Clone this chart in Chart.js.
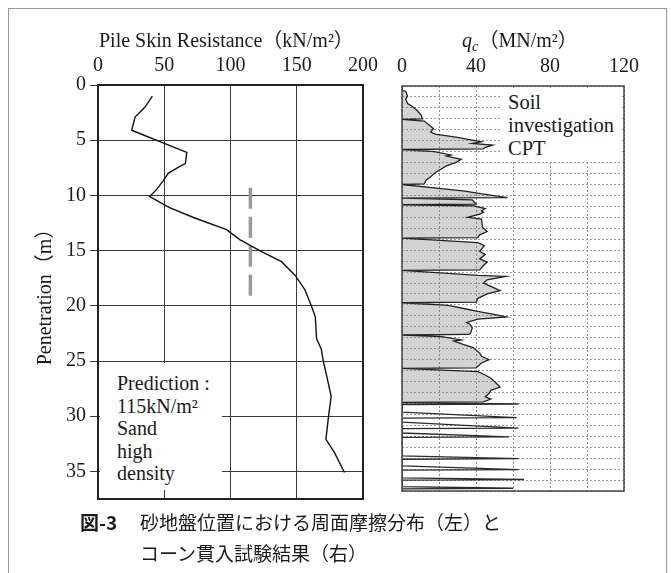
<!DOCTYPE html>
<html><head><meta charset="utf-8">
<script src="https://cdn.jsdelivr.net/npm/chart.js@4.4.1/dist/chart.umd.min.js"></script>
<style>
html,body{margin:0;padding:0;background:#fff;width:671px;height:573px;overflow:hidden;position:relative;}
#frame{position:absolute;left:8px;top:8px;width:657px;height:620px;border:1px solid #999;}
canvas{position:absolute;top:0;}
#c1{left:0;}
#c2{left:390px;}
.t{position:absolute;font-family:"Liberation Serif","Noto Sans CJK JP",serif;color:#1a1a1a;white-space:nowrap;line-height:1;}
.box{position:absolute;background:#fff;}
.jp{position:absolute;font-family:"Noto Sans CJK JP",sans-serif;color:#1a1a1a;white-space:nowrap;font-size:19px;line-height:1;}
</style></head><body>
<div id="frame"></div>
<canvas id="c1" width="390" height="573"></canvas>
<canvas id="c2" width="281" height="573"></canvas>

<div class="t" style="left:99px;top:30px;font-size:20px;">Pile Skin Resistance（kN/m²）</div>
<div class="t" style="left:462px;top:30px;font-size:20px;"><i>q</i><i style="font-size:14.5px;position:relative;top:4px;">c</i>（MN/m²）</div>

<div class="box" style="left:100px;top:363px;width:122px;height:127px;">
  <div class="t" style="left:17px;top:9px;font-size:20px;line-height:22.6px;">Prediction :<br>115kN/m²<br>Sand<br>high<br>density</div>
</div>
<div class="box" style="left:500px;top:88px;width:122px;height:74px;">
  <div class="t" style="left:8px;top:3px;font-size:20.5px;line-height:23px;">Soil<br>investigation<br>CPT</div>
</div>

<div class="jp" style="left:80px;top:512px;font-weight:700;">図-3</div>
<div class="jp" style="left:140px;top:512px;">砂地盤位置における周面摩擦分布（左）と</div>
<div class="jp" style="left:140px;top:543px;">コーン貫入試験結果（右）</div>

<script>
// ---- Left chart: pile skin resistance ----
const skinDepth = [1.0, 2.0, 2.9, 4.1, 6.1, 7.1, 7.4, 8.0, 8.7, 9.5,
                   10.1, 11.1, 12.0, 13.1, 14.0, 15.0, 16.0, 17.2, 18.5, 20.0,
                   21.0, 23.0, 23.9, 25.0, 26.3, 28.2, 30.0, 32.1, 33.3, 35.1];
const skinValue = [41, 35.5, 28, 25.4, 67, 66, 61.5, 53, 49, 44,
                   39, 54, 72, 97, 107, 122, 138.5, 148.5, 156, 161,
                   164, 165, 168.5, 170, 172.5, 176, 174, 172, 178.5, 186];
const predictionValue = 115;
const predictionDepth = [9.3, 19.1];
const skinTicks = [0, 50, 100, 150, 200];
const depthTicks = [0, 5, 10, 15, 20, 25, 30, 35];

// ---- Right chart: CPT qc ----
const cptUpperDepth = [
  0,0.4,0.5,0.9,1.2,1.6,1.8,2.2,2.7,3.0,3.05,3.2,3.6,3.9,4.2,4.4,4.7,4.95,5.1,5.25,5.4,5.6,5.75,5.8,
  6.0,6.3,6.4,6.7,7.0,7.3,7.6,7.9,8.3,8.6,8.95,9.0,
  9.35,9.6,9.9,10.2,10.25,10.4,10.8,10.85,10.95,11.2,11.4,11.55,11.7,12.0,12.15,12.9,13.3,13.6,13.85,13.9,
  14.3,14.6,15.1,15.4,15.8,16.1,16.4,16.8,16.85,
  17.3,17.4,17.7,18.0,18.3,18.7,19.0,19.4,19.75,19.8,
  20.05,20.35,20.6,20.9,21.1,21.3,21.6,21.8,22.1,22.6,22.7,22.75,
  22.9,23.2,23.3,23.6,23.9,24.4,24.7,25.0,25.3,25.6,25.75,25.8,
  26.1,26.4,26.7,27.0,27.5,27.8,28.1,28.4,28.6,28.85,28.9];
const cptUpperValue = [
  0,0,2,3,2,3,5,8,10.5,11,0,12,15,17,15.5,18,30,38,43,38,49,45,44,0,
  17.5,26.5,24,32,29,24,21,18,15.5,13,12,0,
  20,34,45,57,0,38,40,0,39,45,43,44,42,35.5,43,43.5,46,42,41,0,
  41,44.5,42,45,42,46,44,42,0,
  41,56,46,44,48,53,46,41,40,0,
  25,34,41,51,56.5,41,35,37,38,37,36,0,
  21.5,32,28,33,38.5,42,43,47,43,41,40,0,
  41,45,48,50,53,48,47,45,48,44,0];
const cptLowerDepth = [28.9,28.95,29.05,29.1,29.8,30.3,30.35,30.7,31.25,31.3,31.7,32.05,32.1,
                       33.8,34.05,34.1,34.7,35.05,35.1,35.8,35.95,36.0,36.6,36.75,36.8,37];
const cptLowerValue = [0,0,63,0,0,62,0,0,63,0,0,58,0,
                       0,63,0,0,63,0,0,66,0,0,60,0,0];
const qcLabelTicks = [0, 40, 80, 120];

const pts = (vals, deps) => vals.map((v, i) => ({x: v, y: deps[i]}));

const frameBox = {
  id: 'frameBox',
  afterDraw(chart, args, opts) {
    const {ctx, chartArea: a} = chart;
    ctx.save();
    ctx.strokeStyle = opts.color; ctx.lineWidth = opts.width;
    ctx.strokeRect(a.left, a.top, a.right - a.left, a.bottom - a.top);
    ctx.restore();
  }
};

const serif = "Liberation Serif, Noto Sans CJK JP, serif";

const left = new Chart(document.getElementById('c1'), {
  type: 'line',
  data: {
    datasets: [
      { data: pts(skinValue, skinDepth), borderColor: '#111', borderWidth: 1.4,
        pointRadius: 0, tension: 0, fill: false },
      { data: predictionDepth.map(d => ({x: predictionValue, y: d})), borderColor: '#9a9a9a',
        borderWidth: 3.5, borderDash: [21, 8], pointRadius: 0, fill: false }
    ]
  },
  options: {
    indexAxis: 'y', responsive: false, animation: false,
    layout: { padding: { left: 0, top: 0, right: 27, bottom: 74 } },
    plugins: { legend: { display: false }, tooltip: { enabled: false },
               frameBox: { color: '#222', width: 2 } },
    scales: {
      x: { type: 'linear', position: 'top', min: 0, max: 200,
           afterBuildTicks: s => { s.ticks = skinTicks.map(v => ({value: v})); },
           afterFit: s => { s.height = 85; },
           grid: { color: '#3a3a3a', lineWidth: 1, drawTicks: false },
           border: { display: false },
           ticks: { color: '#1a1a1a', padding: 7, font: { family: serif, size: 20 } } },
      y: { type: 'linear', position: 'left', reverse: true, min: 0, max: 37.5,
           afterBuildTicks: s => { s.ticks = depthTicks.map(v => ({value: v})); },
           afterFit: s => { s.width = 98; },
           grid: { color: '#3a3a3a', lineWidth: 1, drawTicks: true, tickLength: 8 },
           border: { display: false },
           ticks: { color: '#1a1a1a', padding: 4, font: { family: serif, size: 20 } },
           title: { display: true, text: 'Penetration（m）', color: '#1a1a1a',
                    padding: { top: 34, bottom: 0 }, font: { family: serif, size: 20 } } }
    }
  },
  plugins: [frameBox]
});

const right = new Chart(document.getElementById('c2'), {
  type: 'line',
  data: {
    datasets: [
      { data: pts(cptUpperValue, cptUpperDepth), borderColor: '#222', borderWidth: 1.3,
        backgroundColor: 'rgba(120,120,120,0.33)', fill: 'origin', pointRadius: 0, tension: 0 },
      { data: pts(cptLowerValue, cptLowerDepth), borderColor: '#2a2a2a', borderWidth: 1.3,
        fill: false, pointRadius: 0, tension: 0 }
    ]
  },
  options: {
    indexAxis: 'y', responsive: false, animation: false,
    layout: { padding: { left: 0, top: 0, right: 47, bottom: 82 } },
    plugins: { legend: { display: false }, tooltip: { enabled: false },
               frameBox: { color: '#444', width: 1.5 } },
    scales: {
      x: { type: 'linear', position: 'top', min: 0, max: 120,
           ticks: { stepSize: 20, color: '#1a1a1a', padding: 7, font: { family: serif, size: 20 },
                    callback: v => qcLabelTicks.includes(v) ? String(v) : '' },
           afterFit: s => { s.height = 86; },
           grid: { color: '#8c8c8c', lineWidth: 1, drawTicks: false },
           border: { display: false, dash: [2, 2] } },
      y: { type: 'linear', position: 'left', reverse: true, min: 0, max: 37,
           ticks: { stepSize: 1, display: false },
           afterFit: s => { s.width = 12; },
           grid: { color: '#9a9a9a', lineWidth: 1, drawTicks: false },
           border: { display: false, dash: [2, 2] } }
    }
  },
  plugins: [frameBox]
});

if (document.fonts && document.fonts.load) {
  Promise.all([
    document.fonts.load('20px "Liberation Serif"'),
    document.fonts.load('19px "Noto Sans CJK JP"')
  ]).then(() => { left.update('none'); right.update('none'); }).catch(() => {});
}
</script>
</body></html>
